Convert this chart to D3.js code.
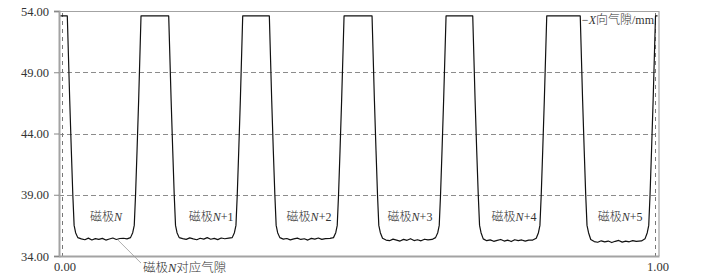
<!DOCTYPE html>
<html>
<head>
<meta charset="utf-8">
<script src="https://cdn.jsdelivr.net/npm/d3@7"></script>
<style>
  body { margin: 0; background: #fff; }
  svg { display: block; }
  text { font-family: "Liberation Serif", "Noto Sans CJK SC", serif; }
</style>
</head>
<body>
<div id="chart"><svg></svg></div>
<script>
const width = 704;
const height = 279;

// y ticks (mm) and x ticks (normalised position)
const yTicks = [34, 39, 44, 49, 54];
const xTicks = [0, 1];

// pole labels: 磁极 + italic N + suffix
const poleSuffix = ["", "+1", "+2", "+3", "+4", "+5"];
const poleX = [0.0742, 0.2513, 0.4165, 0.5868, 0.7622, 0.9410];

const yTitle = ["\u2212", "X", "向气隙/mm"];
const noteText = ["磁极", "N", "对应气隙"];
const notePoint = [0.0944, 35.3];

// measured air gap trace [x, gap mm]
const gapTrace = [
  [-0.0025, 53.6], [0.0089, 53.6],
  [0.0130, 46.7], [0.0157, 42.6], [0.0182, 39.0], [0.0204, 36.5], [0.0229, 35.9], [0.0266, 35.5], [0.0326, 35.4],
  [0.0385, 35.33], [0.0444, 35.46], [0.0503, 35.31], [0.0562, 35.42], [0.0621, 35.36], [0.0680, 35.44], [0.0739, 35.30],
  [0.0798, 35.39], [0.0857, 35.47], [0.0916, 35.35], [0.0975, 35.43], [0.1034, 35.45], [0.1096, 35.40],
  [0.1155, 35.5], [0.1192, 35.9], [0.1218, 36.5], [0.1240, 39.0], [0.1265, 42.6], [0.1292, 46.7], [0.1332, 53.6],
  [0.1799, 53.6],
  [0.1840, 46.7], [0.1867, 42.6], [0.1892, 39.0], [0.1914, 36.5], [0.1939, 35.9], [0.1976, 35.5], [0.2035, 35.42],
  [0.2094, 35.36], [0.2154, 35.48], [0.2213, 35.40], [0.2272, 35.33], [0.2331, 35.45], [0.2390, 35.38], [0.2449, 35.50],
  [0.2508, 35.37], [0.2567, 35.44], [0.2626, 35.34], [0.2685, 35.47], [0.2744, 35.41], [0.2811, 35.46],
  [0.2870, 35.5], [0.2907, 35.9], [0.2933, 36.5], [0.2955, 39.0], [0.2980, 42.6], [0.3007, 46.7], [0.3047, 53.6],
  [0.3496, 53.6],
  [0.3536, 46.7], [0.3563, 42.6], [0.3589, 39.0], [0.3611, 36.5], [0.3636, 35.9], [0.3673, 35.5], [0.3732, 35.38],
  [0.3791, 35.43], [0.3850, 35.32], [0.3909, 35.40], [0.3968, 35.46], [0.4027, 35.35], [0.4086, 35.41], [0.4145, 35.30],
  [0.4204, 35.44], [0.4263, 35.38], [0.4322, 35.47], [0.4381, 35.36], [0.4440, 35.42], [0.4519, 35.44],
  [0.4578, 35.5], [0.4616, 35.9], [0.4641, 36.5], [0.4663, 39.0], [0.4688, 42.6], [0.4715, 46.7], [0.4756, 53.6],
  [0.5228, 53.6],
  [0.5268, 46.7], [0.5295, 42.6], [0.5320, 39.0], [0.5342, 36.5], [0.5368, 35.9], [0.5405, 35.45], [0.5464, 35.30],
  [0.5523, 35.25], [0.5582, 35.38], [0.5641, 35.30], [0.5700, 35.22], [0.5759, 35.36], [0.5818, 35.28], [0.5877, 35.41],
  [0.5936, 35.26], [0.5995, 35.33], [0.6054, 35.24], [0.6113, 35.37], [0.6172, 35.31], [0.6240, 35.35],
  [0.6299, 35.5], [0.6336, 35.9], [0.6361, 36.5], [0.6383, 39.0], [0.6408, 42.6], [0.6435, 46.7], [0.6476, 53.6],
  [0.6926, 53.6],
  [0.6966, 46.7], [0.6993, 42.6], [0.7019, 39.0], [0.7041, 36.5], [0.7066, 35.9], [0.7103, 35.4], [0.7162, 35.25],
  [0.7221, 35.32], [0.7280, 35.20], [0.7339, 35.28], [0.7398, 35.35], [0.7457, 35.22], [0.7516, 35.30], [0.7575, 35.18],
  [0.7634, 35.33], [0.7693, 35.26], [0.7752, 35.31], [0.7811, 35.21], [0.7870, 35.29], [0.7938, 35.30],
  [0.7997, 35.45], [0.8034, 35.9], [0.8059, 36.5], [0.8081, 39.0], [0.8106, 42.6], [0.8133, 46.7], [0.8174, 53.6],
  [0.8739, 53.6],
  [0.8779, 46.7], [0.8806, 42.6], [0.8831, 39.0], [0.8853, 36.5], [0.8879, 35.9], [0.8916, 35.35], [0.8975, 35.18],
  [0.9034, 35.12], [0.9093, 35.24], [0.9152, 35.15], [0.9211, 35.22], [0.9270, 35.10], [0.9329, 35.20], [0.9388, 35.27],
  [0.9447, 35.13], [0.9506, 35.21], [0.9565, 35.16], [0.9624, 35.25], [0.9683, 35.19], [0.9772, 35.23],
  [0.9831, 35.4], [0.9869, 35.9], [0.9894, 36.5], [0.9916, 39.0], [0.9941, 42.6], [0.9968, 46.7], [1.0008, 53.6],
  [1.0042, 53.6]
];

const svg = d3.select('#chart').select('svg')
    .attr('width', width)
    .attr('height', height)
    .attr('viewBox', `0 0 ${width} ${height}`);

const mLeft = 59, mRight = 659, mTop = 11, mBottom = 256;

const x = d3.scaleLinear().domain([-0.0051, 1.0067]).range([mLeft, mRight]);
const y = d3.scaleLinear().domain([34, 54]).range([mBottom, mTop]);

const grey = '#a3a3a3';

// horizontal dashed grid
svg.append('g')
  .selectAll('line')
  .data(yTicks.filter(d => d > 34 && d < 54))
  .join('line')
    .attr('x1', mLeft).attr('x2', mRight)
    .attr('y1', d => Math.round(y(d)) + 0.5).attr('y2', d => Math.round(y(d)) + 0.5)
    .attr('stroke', '#8c8c8c')
    .attr('stroke-width', 1)
    .attr('stroke-dasharray', '5,3');

// vertical dashed markers at 0 and 1
svg.append('g')
  .selectAll('line')
  .data(xTicks)
  .join('line')
    .attr('x1', d => Math.round(x(d)) + 0.5).attr('x2', d => Math.round(x(d)) + 0.5)
    .attr('y1', mTop + 2).attr('y2', mBottom + 4)
    .attr('stroke', '#777')
    .attr('stroke-width', 1)
    .attr('stroke-dasharray', '4,4');

// frame
svg.append('line').attr('x1', mLeft).attr('x2', mRight).attr('y1', mTop + 0.5).attr('y2', mTop + 0.5)
  .attr('stroke', grey).attr('stroke-width', 1.2);
svg.append('line').attr('x1', mRight).attr('x2', mRight).attr('y1', mTop).attr('y2', mBottom)
  .attr('stroke', grey).attr('stroke-width', 1.2);

// y axis
const yAxis = d3.axisLeft(y)
    .tickValues(yTicks)
    .tickFormat(d3.format('.2f'))
    .tickSize(5)
    .tickPadding(5);

const gy = svg.append('g')
    .attr('transform', `translate(${mLeft},0)`)
    .call(yAxis);
gy.select('.domain').attr('stroke', grey).attr('stroke-width', 2);
gy.selectAll('.tick line').attr('stroke', '#888');
gy.selectAll('.tick text')
    .attr('font-family', '"Liberation Serif", serif')
    .attr('font-size', 12.5)
    .attr('fill', '#333');

// x axis
const xAxis = d3.axisBottom(x)
    .tickValues(xTicks)
    .tickFormat(d3.format('.2f'))
    .tickSize(0)
    .tickPadding(6);

const gx = svg.append('g')
    .attr('transform', `translate(0,${mBottom})`)
    .call(xAxis);
gx.select('.domain').attr('stroke', grey).attr('stroke-width', 2);
gx.selectAll('.tick text')
    .attr('font-family', '"Liberation Serif", serif')
    .attr('font-size', 12.5)
    .attr('fill', '#333')
    .attr('dx', 2.5);

// trace
const line = d3.line()
    .x(d => x(d[0]))
    .y(d => y(d[1]));

svg.append('path')
    .datum(gapTrace)
    .attr('d', line)
    .attr('fill', 'none')
    .attr('stroke', '#111')
    .attr('stroke-width', 1.2)
    .attr('stroke-linejoin', 'round');

// pole labels
const labels = svg.append('g')
  .selectAll('text')
  .data(poleSuffix)
  .join('text')
    .attr('x', (d, i) => x(poleX[i]))
    .attr('y', y(36.85))
    .attr('text-anchor', 'middle')
    .attr('font-size', 12)
    .attr('fill', '#333');
labels.append('tspan').attr('font-family', '"Noto Sans CJK SC", sans-serif').attr('font-weight', 300).text('磁极');
labels.append('tspan').attr('font-style', 'italic').attr('font-family', '"Liberation Serif", serif').text('N');
labels.append('tspan').attr('font-family', '"Liberation Serif", serif').text(d => d);

// y title, top right
const title = svg.append('text')
    .attr('x', mRight - 5)
    .attr('y', mTop + 13)
    .attr('text-anchor', 'end')
    .attr('font-size', 12)
    .attr('fill', '#333');
title.append('tspan').attr('font-family', '"Liberation Serif", serif').text(yTitle[0]);
title.append('tspan').attr('font-family', '"Liberation Serif", serif').attr('font-style', 'italic').text(yTitle[1]);
title.append('tspan').attr('font-family', '"Noto Sans CJK SC", sans-serif').attr('font-weight', 300).text('向气隙');
title.append('tspan').attr('font-family', '"Liberation Serif", serif').text('/mm');

// annotation for pole N gap
const px = x(notePoint[0]), py = y(notePoint[1]);
svg.append('line')
    .attr('x1', px).attr('y1', py)
    .attr('x2', px + 23).attr('y2', py + 23)
    .attr('stroke', '#999')
    .attr('stroke-width', 0.8);

const note = svg.append('text')
    .attr('x', px + 25)
    .attr('y', py + 32)
    .attr('font-size', 12.5)
    .attr('fill', '#333');
note.append('tspan').attr('font-family', '"Noto Sans CJK SC", sans-serif').attr('font-weight', 300).text(noteText[0]);
note.append('tspan').attr('font-family', '"Liberation Serif", serif').attr('font-style', 'italic').text(noteText[1]);
note.append('tspan').attr('font-family', '"Noto Sans CJK SC", sans-serif').attr('font-weight', 300).text(noteText[2]);
</script>
</body>
</html>
